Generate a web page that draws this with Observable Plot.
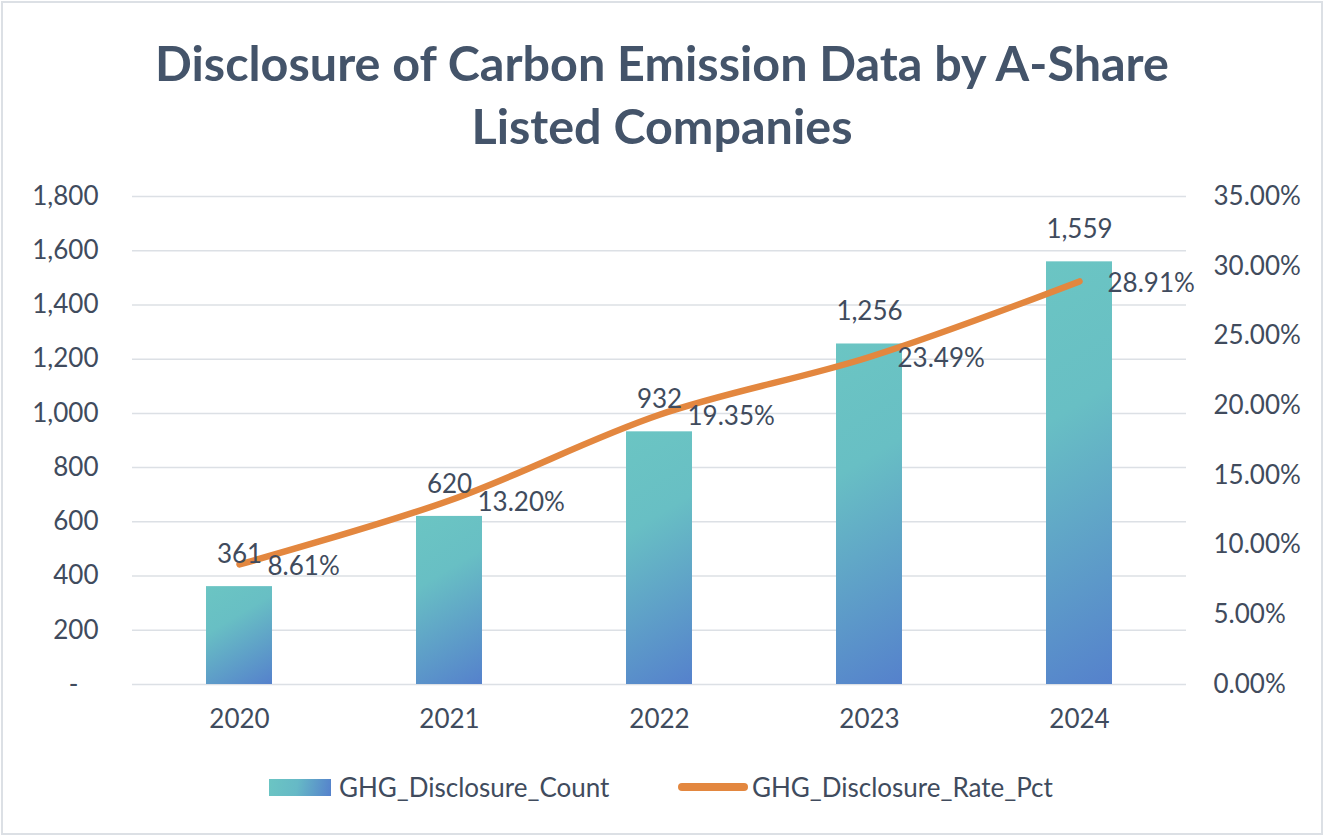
<!DOCTYPE html>
<html>
<head>
<meta charset="utf-8">
<script src="https://cdn.jsdelivr.net/npm/d3@7"></script>
<script src="https://cdn.jsdelivr.net/npm/@observablehq/plot@0.6"></script>
<style>
  html, body { margin: 0; padding: 0; background: #fff; }
  body { width: 1324px; height: 836px; position: relative; overflow: hidden; font-family: Lato, "Noto Sans", sans-serif; color: #404B5D; }
  #frame { position: absolute; left: 1px; top: 1px; width: 1318px; height: 830px; border: 2px solid #DCE0E5; }
  #title { position: absolute; left: 0; top: 31px; width: 1324px; text-align: center; font-weight: 700; font-size: 48.5px; line-height: 63px; letter-spacing: 0; color: #44546A; }
  #chart { position: absolute; left: 0; top: 160px; }
  .leg { position: absolute; font-size: 26px; line-height: 30px; top: 772px; white-space: nowrap; }
  .sw-bar { position: absolute; left: 269px; top: 779px; width: 62px; height: 17px; background: linear-gradient(100deg, #6BC5C3 0%, #66B9C6 45%, #5581CC 100%); }
  .sw-line { position: absolute; left: 678px; top: 783px; width: 70px; height: 8px; border-radius: 4px; background: #E3873F; }
</style>
</head>
<body>
<div id="frame"></div>
<div id="title">Disclosure of Carbon Emission Data by A-Share<br>Listed Companies</div>
<div id="chart"></div>
<div class="sw-bar"></div>
<div class="leg" style="left:339px">GHG_Disclosure_Count</div>
<div class="sw-line"></div>
<div class="leg" style="left:752px">GHG_Disclosure_Rate_Pct</div>
<script>
const years = ["2020", "2021", "2022", "2023", "2024"];
const counts = [361, 620, 932, 1256, 1559];
const rates = [8.61, 13.20, 19.35, 23.49, 28.91];
const countTicks = [0, 200, 400, 600, 800, 1000, 1200, 1400, 1600, 1800];
const rateTicks = [0, 5, 10, 15, 20, 25, 30, 35];
const COUNT_MAX = 1800, RATE_MAX = 35;

const toCount = r => r * COUNT_MAX / RATE_MAX;
const data = years.map((y, i) => ({year: y, count: counts[i], rate: rates[i], rateY: toCount(rates[i])}));
const fmt = d3.format(",");

const plot = Plot.plot({
  width: 1324,
  height: 600,
  marginTop: 36,
  marginBottom: 76,
  marginLeft: 132,
  marginRight: 138,
  style: {fontFamily: "Lato, 'Noto Sans', sans-serif", fontSize: "26px", color: "#404B5D", background: "transparent", overflow: "visible"},
  x: {domain: years, paddingInner: 0.687, paddingOuter: 0.3435, label: null},
  y: {domain: [0, COUNT_MAX], label: null},
  marks: [
    Plot.gridY(countTicks, {stroke: "#DCE0E5", strokeOpacity: 1, strokeWidth: 1.5}),
    Plot.axisY(countTicks, {anchor: "left", tickSize: 0, tickPadding: 34, label: null,
      tickFormat: d => d === 0 ? "-\u00a0\u00a0\u00a0" : fmt(d)}),
    Plot.axisY(rateTicks.map(toCount), {anchor: "right", tickSize: 0, tickPadding: 27, label: null,
      tickFormat: d => (Math.round(d * RATE_MAX / COUNT_MAX * 100) / 100).toFixed(2) + "%"}),
    Plot.axisX({tickSize: 0, tickPadding: 25, label: null}),
    Plot.barY(data, {x: "year", y: "count", fill: "#6BC4C4"}),
    Plot.line(data, {x: "year", y: "rateY", stroke: "#E3873F", strokeWidth: 6.5, curve: "catmull-rom", strokeLinecap: "round"}),
    Plot.text(data, {x: "year", y: "count", text: d => fmt(d.count), dy: -32, fill: "#404B5D", fontSize: 26}),
    Plot.text(data, {x: "year", y: "rateY", text: d => d.rate.toFixed(2) + "%", textAnchor: "start", dx: 28, dy: 2, fill: "#404B5D", fontSize: 26})
  ]
});

document.getElementById("chart").appendChild(plot);

// per-bar diagonal gradients
const svg = d3.select(plot);
const defs = svg.insert("defs", ":first-child");
svg.selectAll('g[aria-label="bar"] rect').each(function(_, i) {
  const r = d3.select(this);
  const x = +r.attr("x"), y = +r.attr("y"), w = +r.attr("width"), h = +r.attr("height");
  const dx = 0.6, dy = 1, n = Math.hypot(dx, dy);
  const ux = dx / n, uy = dy / n;
  const L = w * ux + h * uy;
  const g = defs.append("linearGradient").attr("id", "bg" + i).attr("gradientUnits", "userSpaceOnUse")
    .attr("x1", x).attr("y1", y).attr("x2", x + ux * L).attr("y2", y + uy * L);
  g.append("stop").attr("offset", 0).attr("stop-color", "#6BC5C3");
  g.append("stop").attr("offset", 0.35).attr("stop-color", "#68BFC4");
  g.append("stop").attr("offset", 1).attr("stop-color", "#5581CC");
  r.attr("fill", "url(#bg" + i + ")");
});
</script>
</body>
</html>
